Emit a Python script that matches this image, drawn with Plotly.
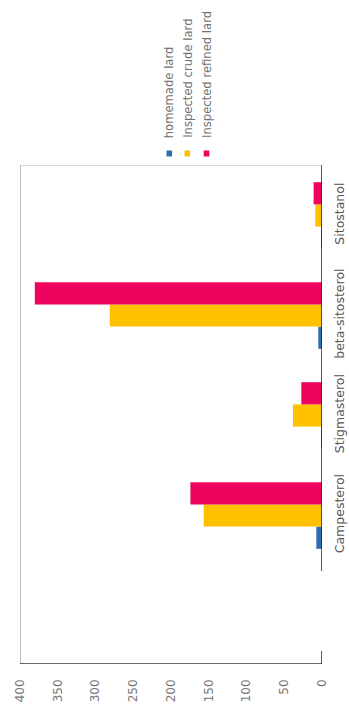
import plotly.graph_objects as go

# Sterol content by lard type
categories = ["Campesterol", "Stigmasterol", "beta-sitosterol", "Sitostanol"]
series_names = ["homemade lard", "Inspected crude lard", "Inspected refined lard"]
homemade = [7.5, 1.0, 4.9, 0.5]
crude = [156.7, 38.4, 281.1, 8.9]
refined = [174.3, 27.4, 380.4, 11.1]
value_ticks = [0, 50, 100, 150, 200, 250, 300, 350, 400]
colors = ["#2E6DB0", "#FFC000", "#F0035F"]

W, H = 349, 706
ML, MR, MT, MB = 20, 27, 165, 42
PW, PH = W - ML - MR, H - MT - MB

fig = go.Figure()
for name, vals, col in zip(series_names, [homemade, crude, refined], colors):
    fig.add_trace(go.Bar(y=categories, x=vals, name=name, orientation="h",
                         marker=dict(color=col, line=dict(width=0))))

font = "DejaVu Sans"


def px_x(p):
    return (p - ML) / PW


def px_y(p):
    return (H - MB - p) / PH


shapes = []
# plot frame: light grey on the far sides, dark on the axes
shapes.append(dict(type="line", xref="x", yref="y", x0=400, x1=400, y0=-1.485, y1=3.505,
                   line=dict(color="#A8A8A8", width=1.5)))
shapes.append(dict(type="line", xref="x", yref="y", x0=400, x1=0, y0=3.505, y1=3.505,
                   line=dict(color="#B0B0B0", width=1.2)))
shapes.append(dict(type="line", xref="x", yref="y", x0=0, x1=0, y0=3.505, y1=-0.555,
                   line=dict(color="#222222", width=1.5)))
shapes.append(dict(type="line", xref="x", yref="y", x0=0, x1=0, y0=-1.355, y1=-1.485,
                   line=dict(color="#222222", width=1.5)))
shapes.append(dict(type="line", xref="x", yref="y", x0=400, x1=0, y0=-1.485, y1=-1.485,
                   line=dict(color="#333333", width=1.5)))

annotations = []
leg_x = [169.3, 187.3, 206.5]
for name, col, lx in zip(series_names, colors, leg_x):
    shapes.append(dict(type="rect", xref="paper", yref="paper",
                       x0=px_x(lx - 2.8), x1=px_x(lx + 2.8),
                       y0=px_y(156.5), y1=px_y(150.5),
                       fillcolor=col, line=dict(width=0)))
    annotations.append(dict(text=name, textangle=-90, showarrow=False,
                            xref="paper", yref="paper", x=px_x(lx), y=px_y(140),
                            xanchor="center", yanchor="bottom",
                            font=dict(family=font, size=11.6, color="#707070")))

fig.update_layout(
    width=W, height=H,
    margin=dict(l=ML, r=MR, t=MT, b=MB, pad=0, autoexpand=False),
    paper_bgcolor="white", plot_bgcolor="white",
    barmode="group", bargap=0.334, bargroupgap=0,
    showlegend=False,
    shapes=shapes, annotations=annotations,
    xaxis=dict(range=[400, 0], tickvals=value_ticks, ticktext=[str(v) for v in value_ticks],
               tickangle=-90, showgrid=False, zeroline=False, showline=False,
               ticks="", ticklabelstandoff=12, automargin=False,
               tickfont=dict(family=font, size=12, color="#777777")),
    yaxis=dict(side="right", range=[-1.485, 3.505], tickangle=-90,
               showgrid=False, zeroline=False, showline=False, ticks="",
               ticklabelstandoff=8, automargin=False,
               tickfont=dict(family=font, size=12.5, color="#555555")),
)

fig.write_html("out.html")
